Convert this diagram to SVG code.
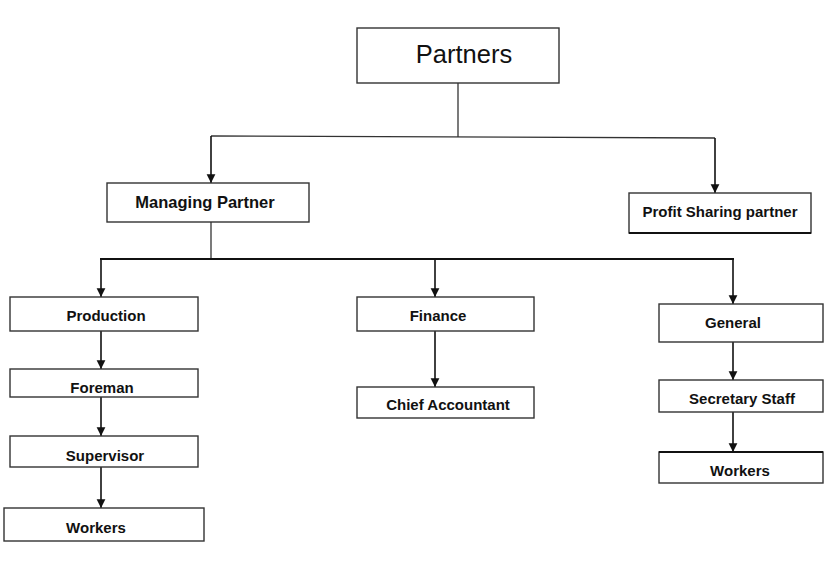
<svg xmlns="http://www.w3.org/2000/svg" width="828" height="584" viewBox="0 0 828 584">
<style>
.box{fill:#fff;stroke:#333;stroke-width:1.4}
.lbl{font-family:"Liberation Sans",Arial,sans-serif;font-weight:bold;font-size:15px;fill:#111;text-anchor:middle}
.big{font-family:"Liberation Sans",Arial,sans-serif;font-size:25.5px;fill:#111;text-anchor:middle}
.ln{fill:none;stroke:#333;stroke-width:1.3}
.ln2{fill:none;stroke:#111;stroke-width:2}
.ar{fill:none;stroke:#111;stroke-width:1.6;marker-end:url(#ah)}
</style>
<defs>
<marker id="ah" viewBox="0 0 10 10" refX="10" refY="5" markerWidth="5.5" markerHeight="6" markerUnits="strokeWidth" orient="auto">
<path d="M0,0 L10,5 L0,10 z" fill="#111"/>
</marker>
</defs>
<rect width="828" height="584" fill="#fff"/>
<g id="connectors">
<path class="ln" d="M458,83 V137"/>
<path class="ln" d="M211,136 L715,138"/>
<path class="ar" d="M211,136 V183"/>
<path class="ar" d="M715,138 V193"/>
<path class="ln" d="M211,222 V259"/>
<path class="ln2" d="M100,259 H734"/>
<path class="ar" d="M101,259 V297"/>
<path class="ar" d="M435,259 V297"/>
<path class="ar" d="M733,259 V304"/>
<path class="ar" d="M101,331 V369"/>
<path class="ar" d="M101,397 V436"/>
<path class="ar" d="M101,467 V508"/>
<path class="ar" d="M435,331 V387"/>
<path class="ar" d="M733,342 V380"/>
<path class="ar" d="M733,412 V452"/>
</g>
<g id="partners">
<rect class="box" x="357" y="28" width="202" height="55"/>
<text class="big" x="464" y="63">Partners</text>
</g>
<g id="managing-partner">
<rect class="box" x="107" y="183" width="202" height="39"/>
<text class="lbl" x="205" y="208" style="font-size:16.5px">Managing Partner</text>
</g>
<g id="profit-sharing-partner">
<rect class="box" x="629" y="193" width="182" height="40"/>
<path d="M629,233 H811" stroke="#111" stroke-width="2"/>
<text class="lbl" x="720" y="217">Profit Sharing partner</text>
</g>
<g id="production">
<rect class="box" x="10" y="297" width="188" height="34"/>
<text class="lbl" x="106" y="321">Production</text>
</g>
<g id="foreman">
<rect class="box" x="10" y="369" width="188" height="28"/>
<text class="lbl" x="102" y="393">Foreman</text>
</g>
<g id="supervisor">
<rect class="box" x="10" y="436" width="188" height="31"/>
<text class="lbl" x="105" y="461">Supervisor</text>
</g>
<g id="workers-production">
<rect class="box" x="4" y="508" width="200" height="33"/>
<text class="lbl" x="96" y="533">Workers</text>
</g>
<g id="finance">
<rect class="box" x="357" y="297" width="177" height="34"/>
<text class="lbl" x="438" y="321">Finance</text>
</g>
<g id="chief-accountant">
<rect class="box" x="357" y="387" width="177" height="31"/>
<text class="lbl" x="448" y="410">Chief Accountant</text>
</g>
<g id="general">
<rect class="box" x="659" y="304" width="164" height="38"/>
<text class="lbl" x="733" y="328">General</text>
</g>
<g id="secretary-staff">
<rect class="box" x="659" y="380" width="164" height="32"/>
<text class="lbl" x="742" y="404">Secretary Staff</text>
</g>
<g id="workers-general">
<rect class="box" x="659" y="452" width="164" height="31"/>
<path d="M659,452 H823" stroke="#111" stroke-width="2"/>
<text class="lbl" x="740" y="476">Workers</text>
</g>
</svg>
